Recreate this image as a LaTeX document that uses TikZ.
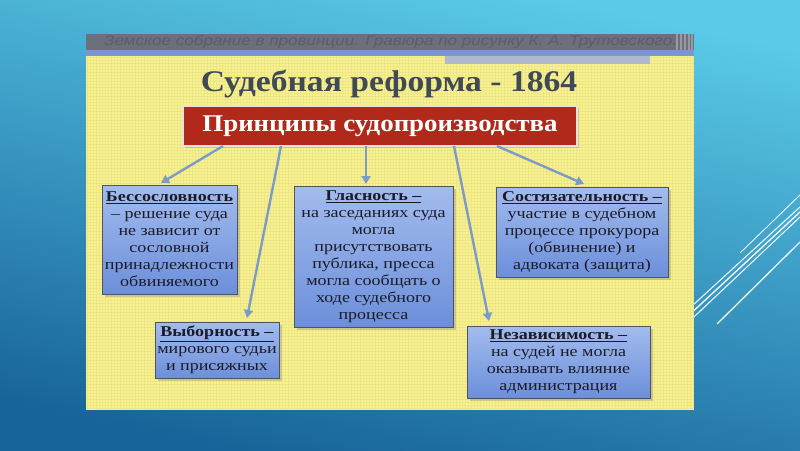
\documentclass[tikz,border=0pt]{standalone}
\usepackage{fontspec}
\setmainfont{Liberation Serif}
\newfontfamily\boxfont[FakeStretch=1.2]{Liberation Serif}
\newfontfamily\titlefont[FakeStretch=1.12]{Liberation Serif}
\newfontfamily\barfont[FakeStretch=1.22]{Liberation Sans}
\usetikzlibrary{shadows,arrows.meta}
\definecolor{bgtop}{HTML}{5ACAE8}
\definecolor{bgbot}{HTML}{18649A}
\definecolor{panel}{HTML}{FAF38C}
\definecolor{gridc}{HTML}{EDE58A}
\definecolor{barc}{HTML}{6B707B}
\definecolor{bartext}{HTML}{5A5E67}
\definecolor{stripe}{HTML}{7C95D8}
\definecolor{band}{HTML}{AEBACD}
\definecolor{titlec}{HTML}{3F4A55}
\definecolor{redc}{HTML}{B0291B}
\definecolor{boxtop}{HTML}{A3BCEE}
\definecolor{boxbot}{HTML}{6C8FDA}
\definecolor{boxline}{HTML}{50545C}
\definecolor{arrc}{HTML}{7C9BC9}
\definecolor{textc}{HTML}{1B1B28}
\definecolor{barstripe}{HTML}{969AA2}
\tikzset{
  infobox/.style={draw=boxline, line width=0.8pt, top color=boxtop, bottom color=boxbot,
    align=center, inner xsep=2pt, inner ysep=0pt, text=textc,
    font=\boxfont\fontsize{15}{17}\selectfont,
    drop shadow={shadow xshift=2.5pt, shadow yshift=-2.5pt, opacity=0.35}},
  arr/.style={draw=arrc, line width=2.4pt, -{Triangle[length=8pt,width=9pt]}},
  glint/.style={draw=white, line width=1.1pt, opacity=0.9}
}
\begin{document}
\begin{tikzpicture}[x=1pt,y=-1pt]
\useasboundingbox (0,0) rectangle (800,450);
% background
\shade[top color=bgtop, bottom color=bgbot, shading angle=-12] (0,0) rectangle (800,450);
% decorative lines
\draw[glint, line width=0.9pt] (740,253) -- (800,195);
\draw[glint] (680,317) -- (800,207);
\draw[glint, line width=1.4pt] (680,323.5) -- (800,212);
\draw[glint] (680,330) -- (800,217);
\draw[glint, line width=1.3pt] (717,324) -- (800,242);
% panel
\fill[panel] (86,50) rectangle (694,410);
\draw[gridc, line width=0.25pt, step=3pt] (86,56) grid (694,410);
\fill[barc] (86,34) rectangle (694,50);
\foreach \xx in {676,680,684,688,691}
  \fill[barstripe] (\xx,34) rectangle ++(2,16);
\node[anchor=west, text=bartext, font=\barfont\itshape\fontsize{14}{14}\selectfont, inner sep=0pt] (bartxt) at (104,42)
  {Земское собрание в провинции. Гравюра по рисунку К. А. Трутовского.};
\fill[stripe] (86,50) rectangle (694,56);
\fill[band] (445,56) rectangle (650,64);
% title
\node[text=titlec, font=\titlefont\bfseries\fontsize{30}{30}\selectfont, inner sep=0pt] (title) at (389,84) {Судебная реформа - 1864};
% red box
\node[draw={rgb,255:red,235;green,225;blue,220}, line width=1.3pt, fill=redc, minimum width=394pt, minimum height=40pt,
  text=white, font=\titlefont\bfseries\fontsize{24}{24}\selectfont,
  drop shadow={shadow xshift=2pt, shadow yshift=-2pt, opacity=0.3}] (red) at (380,126) {Принципы судопроизводства};
% boxes
\node[infobox, minimum width=135pt, minimum height=109pt] (b1) at (169.5,239.5)
  {\underline{\textbf{Бессословность}}\\– решение суда\\не зависит от\\сословной\\принадлежности\\обвиняемого};
\node[infobox, minimum width=124pt, minimum height=56pt] (b2) at (217,350)
  {\underline{\textbf{Выборность –}}\\мирового судьи\\и присяжных};
\node[infobox, minimum width=159pt, minimum height=141pt] (b3) at (373.5,256.5)
  {\underline{\textbf{Гласность –}}\\на заседаниях суда\\могла\\присутствовать\\публика, пресса\\могла сообщать о\\ходе судебного\\процесса};
\node[infobox, minimum width=172pt, minimum height=90pt] (b4) at (582,232)
  {\underline{\textbf{Состязательность –}}\\участие в судебном\\процессе прокурора\\(обвинение) и\\адвоката (защита)};
\node[infobox, minimum width=183pt, minimum height=72pt] (b5) at (558.5,362)
  {\underline{\textbf{Независимость –}}\\на судей не могла\\оказывать влияние\\администрация};
% arrows
\coordinate (s1) at (223,146); \coordinate (t1) at (161,183);
\coordinate (s2) at (281,146); \coordinate (t2) at (247,318);
\coordinate (s3) at (366,146); \coordinate (t3) at (366,184);
\coordinate (s4) at (454,146); \coordinate (t4) at (489,321);
\coordinate (s5) at (497,146); \coordinate (t5) at (584,184);
\draw[arr] (s1) -- (t1);
\draw[arr] (s2) -- (t2);
\draw[arr] (s3) -- (t3);
\draw[arr] (s4) -- (t4);
\draw[arr] (s5) -- (t5);
\end{tikzpicture}
\end{document}
